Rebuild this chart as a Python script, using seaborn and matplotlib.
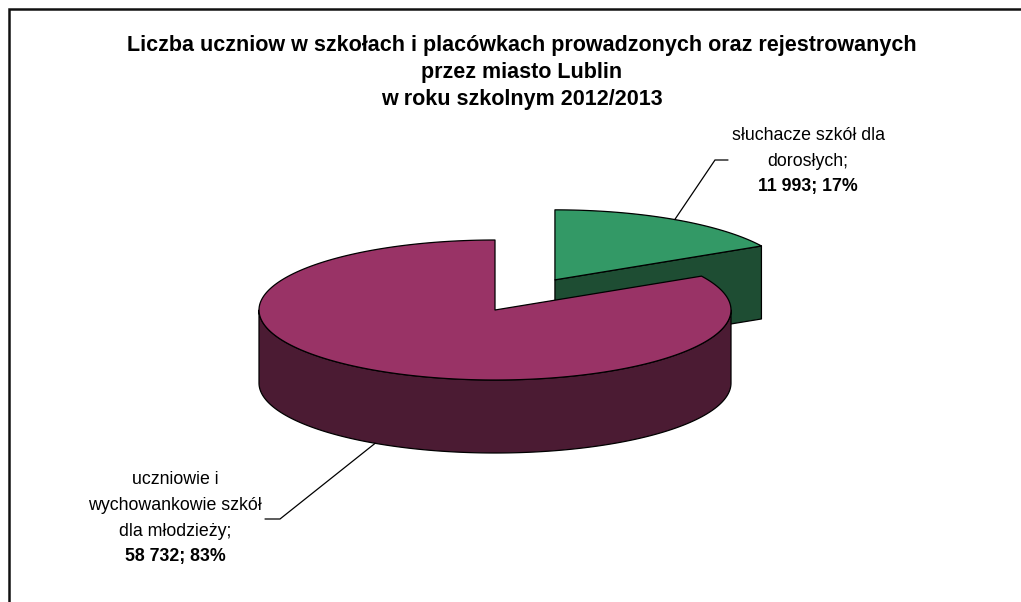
import numpy as np
import matplotlib
matplotlib.use("Agg")
import matplotlib.pyplot as plt
from matplotlib.patches import Polygon
import seaborn as sns

# ---- data ----
categories = ["słuchacze szkół dla dorosłych",
              "uczniowie i wychowankowie szkół dla młodzieży"]
label_lines = [["słuchacze szkół dla", "dorosłych;"],
               ["uczniowie i", "wychowankowie szkół", "dla młodzieży;"]]
values = [11993, 58732]
title_lines = ["Liczba uczniow w szkołach i placówkach prowadzonych oraz rejestrowanych",
               "przez miasto Lublin",
               "w roku szkolnym 2012/2013"]

# ---- style ----
top_colors = ["#339966", "#993366"]
side_colors = ["#1E4D33", "#4B1B33"]
explode = [0.5, 0.0]

sns.set_theme(style="white")
plt.rcParams['font.family'] = ['Liberation Sans', 'DejaVu Sans']

fig = plt.figure(figsize=(10.21, 6.02), dpi=100)
ax = fig.add_axes([0, 0, 1, 1])
ax.set_xlim(0, 1021)
ax.set_ylim(602, 0)
ax.axis('off')

# geometry of the 3-D pie (pixel layout)
cx, cy, a, b, h = 495, 310, 236, 70, 73
ec, lw = "black", 0.9


def rim(t, ox, oy, dz=0.0):
    t = np.radians(t)
    return ox + a * np.cos(t), oy - b * np.sin(t) + dz


def arc(t0, t1, ox, oy, dz=0.0, n=200):
    ts = np.linspace(t0, t1, n)
    xs, ys = rim(ts, ox, oy, dz)
    return np.column_stack([xs, ys])


total = float(sum(values))
fracs = np.array(values) / total
slices = []
start = 90.0
for i, f in enumerate(fracs):
    t_start = start
    t_end = start - f * 360.0
    mid = (t_start + t_end) / 2.0
    ox = cx + explode[i] * a * np.cos(np.radians(mid))
    oy = cy - explode[i] * b * np.sin(np.radians(mid))
    slices.append(dict(i=i, t0=t_end, t1=t_start, mid=mid, ox=ox, oy=oy))
    start = t_end

# back to front
order = sorted(slices, key=lambda s: -np.sin(np.radians(s["mid"])))
for s in order:
    i, t0, t1, ox, oy = s["i"], s["t0"], s["t1"], s["ox"], s["oy"]
    # radial cut faces
    for t, vis in ((t1, np.cos(np.radians(t1)) < -1e-9), (t0, np.cos(np.radians(t0)) > 1e-9)):
        if vis:
            px, py = rim(t, ox, oy)
            poly = [(ox, oy), (px, py), (px, py + h), (ox, oy + h)]
            ax.add_patch(Polygon(poly, closed=True, fc=side_colors[i], ec=ec, lw=lw, joinstyle='round'))
    # outer wall (front half)
    for k in range(-2, 3):
        lo = max(t0, 180 + 360 * k)
        hi = min(t1, 360 + 360 * k)
        if hi > lo:
            top = arc(lo, hi, ox, oy)
            bot = arc(hi, lo, ox, oy, h)
            ax.add_patch(Polygon(np.vstack([top, bot]), closed=True, fc=side_colors[i],
                                 ec=ec, lw=lw, joinstyle='round'))
    # top
    pts = np.vstack([[[ox, oy]], arc(t0, t1, ox, oy)])
    ax.add_patch(Polygon(pts, closed=True, fc=top_colors[i], ec=ec, lw=lw, joinstyle='round'))

# ---- labels with leader lines ----
label_pos = {0: dict(anchor_dz=0.0, elbow=(715, 160), end=(728, 160), tx=808, ty=136),
             1: dict(anchor_dz=h, elbow=(280, 519), end=(265, 519), tx=175, ty=480)}
line_gap = 25.5
fs = 12.75
for s in slices:
    i = s["i"]
    lp = label_pos[i]
    axp, ayp = rim(s["mid"], s["ox"], s["oy"], lp["anchor_dz"])
    ax.plot([axp, lp["elbow"][0], lp["end"][0]], [ayp, lp["elbow"][1], lp["end"][1]],
            color="black", lw=0.9, solid_joinstyle='miter')
    lines = label_lines[i]
    for j, line in enumerate(lines):
        ax.text(lp["tx"], lp["ty"] + j * line_gap, line, ha="center", va="center",
                fontsize=fs, color="black")
    num = f"{values[i]:,}".replace(",", " ") + f"; {round(fracs[i] * 100):.0f}%"
    ax.text(lp["tx"], lp["ty"] + len(lines) * line_gap, num, ha="center", va="center",
            fontsize=fs, fontweight="bold", color="black")

# ---- title ----
for j, line in enumerate(title_lines):
    ax.text(522, 45 + j * 27.5, line, ha="center", va="center", fontsize=15.5,
            fontweight="bold", color="black")

# chart-area border
ax.plot([8.5, 8.5, 1021], [602, 8.5, 8.5], color="#111111", lw=1.8, clip_on=False,
        solid_joinstyle='miter')

fig.savefig("out.png", dpi=100)
